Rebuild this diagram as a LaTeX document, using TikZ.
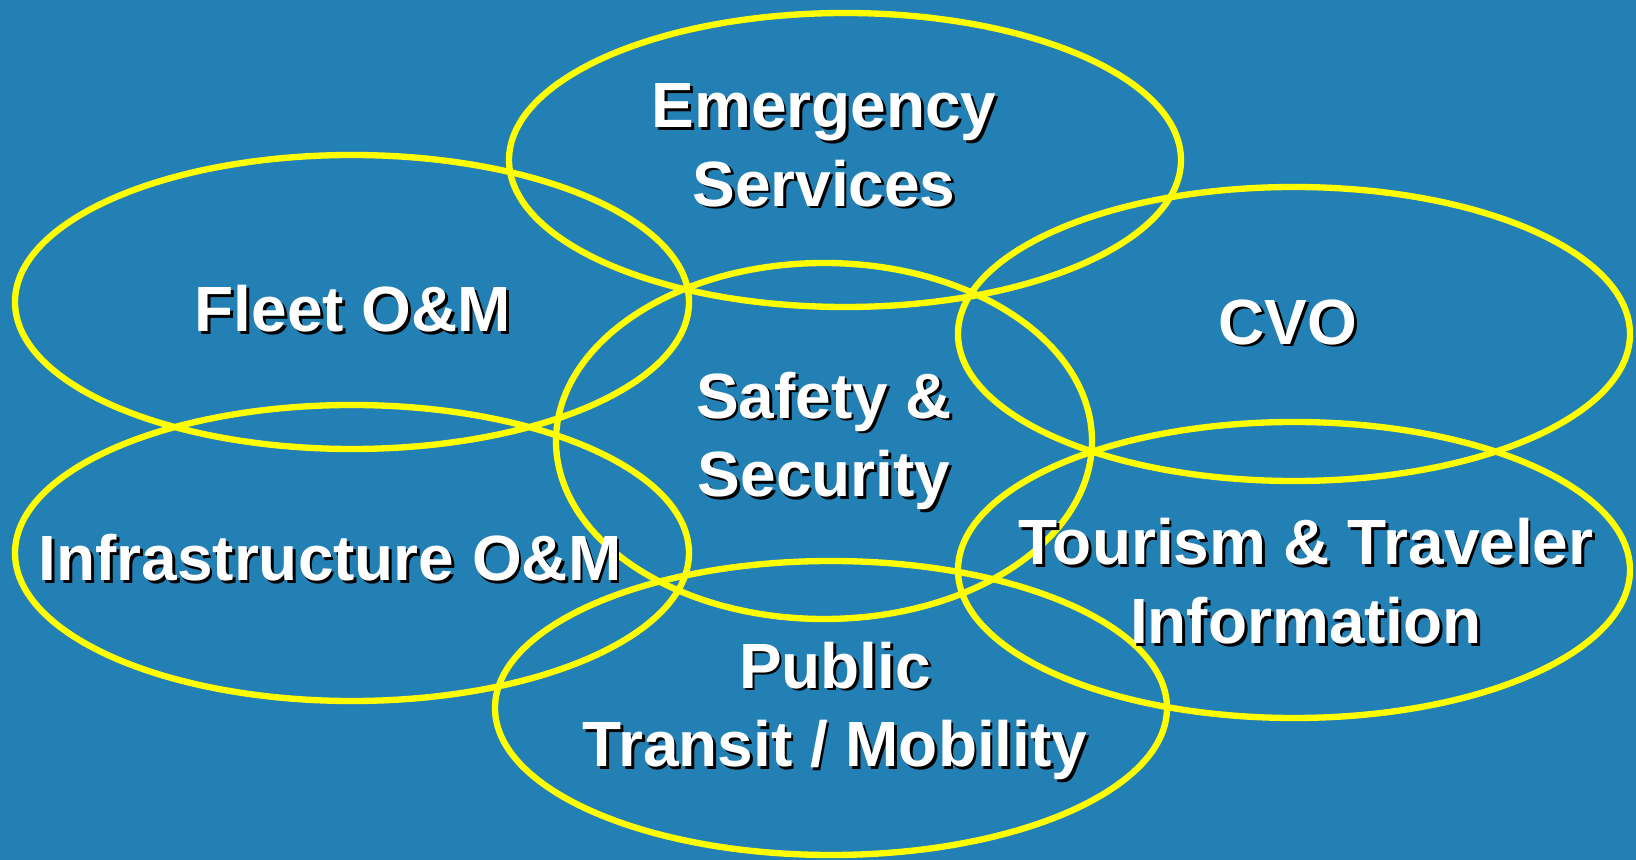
\documentclass[tikz,border=0pt]{standalone}
\usepackage{fontspec}
\setmainfont{Liberation Sans}
\definecolor{bgblue}{RGB}{34,128,181}
\definecolor{ringyellow}{RGB}{255,255,0}
\tikzset{
  ring/.style={draw=ringyellow, line width=1.8pt},
  lbl/.style={text=white, font=\bfseries\fontsize{18.2}{22.4}\selectfont, align=center, inner sep=0pt},
}
% text with a dark drop shadow
\newcommand{\shadowlabel}[3]{%
  \node[lbl, text=black, xshift=0.8pt, yshift=-0.8pt] at (#2) {#3};
  \node[lbl] (#1) at (#2) {#3};}
\begin{document}
\begin{tikzpicture}
  \fill[bgblue] (0,0) rectangle (16.36,8.60);
  \useasboundingbox (0,0) rectangle (16.36,8.60);
  % ring centres
  \coordinate (emerg)  at (8.45,7.00);
  \coordinate (fleet)  at (3.52,5.58);
  \coordinate (cvo)    at (12.94,5.26);
  \coordinate (safety) at (8.24,4.19);
  \coordinate (infra)  at (3.52,3.07);
  \coordinate (tour)   at (12.94,2.90);
  \coordinate (public) at (8.31,1.52);
  \draw[ring] (emerg)  ellipse [x radius=3.36, y radius=1.47];
  \draw[ring] (fleet)  ellipse [x radius=3.37, y radius=1.47];
  \draw[ring] (cvo)    ellipse [x radius=3.36, y radius=1.47];
  \draw[ring] (safety) ellipse [x radius=2.68, y radius=1.78];
  \draw[ring] (infra)  ellipse [x radius=3.37, y radius=1.48];
  \draw[ring] (tour)   ellipse [x radius=3.36, y radius=1.48];
  \draw[ring] (public) ellipse [x radius=3.36, y radius=1.47];
  % labels
  \shadowlabel{emergtxt}{8.24,7.15}{Emergency\\Services}
  \shadowlabel{fleettxt}{3.53,5.51}{Fleet O\&M}
  \shadowlabel{cvotxt}{12.88,5.38}{CVO}
  \shadowlabel{safetytxt}{8.24,4.19}{Safety \&\\Security}
  \shadowlabel{infratxt}{3.30,3.02}{Infrastructure O\&M}
  \shadowlabel{tourtxt}{13.06,2.79}{Tourism \& Traveler\\Information}
  \shadowlabel{publictxt}{8.35,1.49}{Public\\Transit / Mobility}
\end{tikzpicture}
\end{document}
